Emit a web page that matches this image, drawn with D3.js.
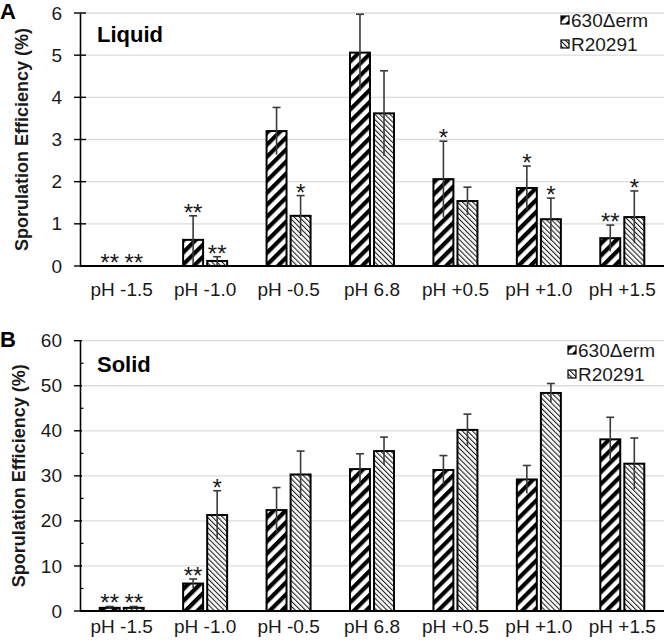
<!DOCTYPE html>
<html>
<head>
<meta charset="utf-8">
<script src="https://cdn.jsdelivr.net/npm/d3@7"></script>
<style>
  html, body { margin: 0; padding: 0; background: #fff; }
  svg { display: block; font-family: "Liberation Sans", Arial, sans-serif; }
</style>
</head>
<body>
<svg id="chart" width="666" height="644"></svg>
<script>
// ---------- data ----------
const categories = ["pH -1.5", "pH -1.0", "pH -0.5", "pH 6.8", "pH +0.5", "pH +1.0", "pH +1.5"];
const seriesNames = ["630\u0394erm", "R20291"];

const liquid630 = [0, 0.62, 3.2, 5.06, 2.06, 1.85, 0.66];
const liquid630Err = [0, 0.57, 0.56, 0.91, 0.9, 0.52, 0.31];
const liquidR = [0, 0.12, 1.19, 3.62, 1.54, 1.11, 1.16];
const liquidRErr = [0, 0.1, 0.48, 1.01, 0.33, 0.5, 0.62];
const liquidStars630 = ["**", "**", "", "", "*", "*", "**"];
const liquidStarsR = ["**", "**", "*", "", "", "*", "*"];
const liquidTicks = [0, 1, 2, 3, 4, 5, 6];

const solid630 = [0.7, 6.1, 22.4, 31.5, 31.3, 29.2, 38.1];
const solid630Err = [0.3, 1.0, 5.0, 3.4, 3.2, 3.1, 4.9];
const solidR = [0.7, 21.3, 30.3, 35.5, 40.2, 48.4, 32.7];
const solidRErr = [0.3, 5.4, 5.2, 3.1, 3.5, 2.1, 5.7];
const solidStars630 = ["**", "**", "", "", "", "", ""];
const solidStarsR = ["**", "*", "", "", "", "", ""];
const solidTicks = [0, 10, 20, 30, 40, 50, 60];
const solidMinorTicks = [5, 15, 25, 35, 45, 55];

const yTitle = "Sporulation Efficiency (%)";

// ---------- drawing ----------
const svg = d3.select("#chart");
const defs = svg.append("defs");

// thick "/" stripes
const p1 = defs.append("pattern").attr("id", "pat630")
  .attr("patternUnits", "userSpaceOnUse").attr("width", 8.5).attr("height", 8.5)
  .attr("patternTransform", "rotate(45)");
p1.append("rect").attr("width", 8.5).attr("height", 8.5).attr("fill", "#fff");
p1.append("rect").attr("width", 4.2).attr("height", 8.5).attr("fill", "#000");

// thin "\" stripes
const p2 = defs.append("pattern").attr("id", "patR")
  .attr("patternUnits", "userSpaceOnUse").attr("width", 3.6).attr("height", 3.6)
  .attr("patternTransform", "rotate(-45)");
p2.append("rect").attr("width", 3.6).attr("height", 3.6).attr("fill", "#fff");
p2.append("rect").attr("width", 1.1).attr("height", 3.6).attr("fill", "#222");

const fills = ["url(#pat630)", "url(#patR)"];

const x = d3.scaleBand().domain(categories).range([80, 664]).paddingInner(0).paddingOuter(0);
const xs = d3.scaleBand().domain(seriesNames)
  .range([x.bandwidth() / 2 - 22, x.bandwidth() / 2 + 22]).paddingInner(0.17);

function panel(cfg) {
  const g = svg.append("g");
  const y = d3.scaleLinear().domain([0, cfg.max]).range([cfg.bottom, cfg.top]);

  // gridlines
  g.append("g").selectAll("line").data(cfg.ticks.filter(t => t > 0)).join("line")
    .attr("x1", 80).attr("x2", 664)
    .attr("y1", d => y(d)).attr("y2", d => y(d))
    .attr("stroke", "#dcdcdc").attr("stroke-width", 1.3);

  // bars
  const data = [];
  categories.forEach((c, i) => {
    cfg.series.forEach((s, k) => {
      data.push({ c, s: seriesNames[k], k, v: s.v[i], e: s.e[i], star: s.star[i] });
    });
  });

  const bars = g.append("g");
  bars.selectAll("rect").data(data.filter(d => d.v > 0)).join("rect")
    .attr("x", d => x(d.c) + xs(d.s))
    .attr("width", xs.bandwidth())
    .attr("y", d => y(d.v))
    .attr("height", d => y(0) - y(d.v))
    .attr("fill", d => fills[d.k])
    .attr("stroke", "#000").attr("stroke-width", 2);

  // error bars
  const eb = g.append("g").attr("stroke", "#3a3a3a").attr("stroke-width", 1.6);
  const withErr = data.filter(d => d.e > 0);
  eb.selectAll("line.v").data(withErr).join("line").attr("class", "v")
    .attr("x1", d => x(d.c) + xs(d.s) + xs.bandwidth() / 2)
    .attr("x2", d => x(d.c) + xs(d.s) + xs.bandwidth() / 2)
    .attr("y1", d => y(Math.max(0, d.v - d.e)))
    .attr("y2", d => y(d.v + d.e));
  eb.selectAll("line.c").data(withErr).join("line").attr("class", "c")
    .attr("x1", d => x(d.c) + xs(d.s) + xs.bandwidth() / 2 - 4)
    .attr("x2", d => x(d.c) + xs(d.s) + xs.bandwidth() / 2 + 4)
    .attr("y1", d => y(d.v + d.e))
    .attr("y2", d => y(d.v + d.e));

  // stars
  g.append("g").selectAll("text").data(data.filter(d => d.star)).join("text")
    .attr("x", d => x(d.c) + xs(d.s) + xs.bandwidth() / 2)
    .attr("y", d => y(d.v + d.e) + cfg.starOff)
    .attr("text-anchor", "middle")
    .attr("font-size", 24).attr("fill", "#1a1a1a")
    .text(d => d.star);

  // y axis
  const yAxis = d3.axisLeft(y).tickValues(cfg.ticks).tickFormat(d3.format("d"))
    .tickSize(0).tickPadding(18);
  const ya = g.append("g").attr("transform", "translate(80,0)").call(yAxis);
  ya.select(".domain").attr("stroke", "#000").attr("stroke-width", 1.6);
  ya.selectAll("text").attr("font-size", 19).attr("fill", "#1a1a1a")
    .attr("font-family", "Liberation Sans, Arial, sans-serif");
  g.append("g").selectAll("line").data(cfg.ticks).join("line")
    .attr("x1", 74).attr("x2", cfg.tickIn)
    .attr("y1", d => y(d)).attr("y2", d => y(d))
    .attr("stroke", "#000").attr("stroke-width", 1.4);
  if (cfg.minor) {
    g.append("g").selectAll("line").data(cfg.minor).join("line")
      .attr("x1", 80).attr("x2", 83.5)
      .attr("y1", d => y(d)).attr("y2", d => y(d))
      .attr("stroke", "#000").attr("stroke-width", 1.2);
  }

  // x axis
  g.append("line").attr("x1", 80).attr("x2", 664)
    .attr("y1", y(0)).attr("y2", y(0))
    .attr("stroke", "#000").attr("stroke-width", 2);
  const xa = d3.axisBottom(x).tickSize(0).tickPadding(0);
  const xg = g.append("g").attr("transform", `translate(0,${y(0)})`).call(xa);
  xg.select(".domain").remove();
  xg.selectAll("text").attr("font-size", 19).attr("fill", "#1a1a1a")
    .attr("dy", null).attr("y", cfg.labelOff)
    .attr("font-family", "Liberation Sans, Arial, sans-serif");

  // y title
  g.append("text")
    .attr("transform", `translate(${cfg.titleX},${(cfg.top + cfg.bottom) / 2}) rotate(-90)`)
    .attr("text-anchor", "middle")
    .attr("font-size", 18).attr("font-weight", "bold").attr("fill", "#1a1a1a")
    .text(yTitle);

  // panel title
  g.append("text").attr("x", 97).attr("y", cfg.nameY)
    .attr("font-size", 22).attr("font-weight", "bold").attr("fill", "#000")
    .text(cfg.name);

  // panel letter
  g.append("text").attr("x", 0).attr("y", cfg.letterY)
    .attr("font-size", 22).attr("font-weight", "bold").attr("fill", "#000")
    .text(cfg.letter);

  // legend
  const lg = g.append("g");
  seriesNames.forEach((s, k) => {
    const ly = cfg.legendY + k * 24;
    lg.append("rect").attr("x", cfg.legendX).attr("y", ly - 4).attr("width", 8).attr("height", 8)
      .attr("fill", fills[k]).attr("stroke", "#000").attr("stroke-width", 1.2);
    lg.append("text").attr("x", cfg.legendX + 10).attr("y", ly + 7)
      .attr("font-size", 19).attr("fill", "#1a1a1a").text(s);
  });
}

panel({
  name: "Liquid", letter: "A", max: 6, top: 13, bottom: 266, ticks: liquidTicks,
  series: [
    { v: liquid630, e: liquid630Err, star: liquidStars630 },
    { v: liquidR, e: liquidRErr, star: liquidStarsR }
  ],
  starOff: 5, labelOff: 30, titleX: 28, nameY: 42, letterY: 19,
  legendX: 561, legendY: 20, tickIn: 86
});

panel({
  name: "Solid", letter: "B", max: 60, top: 340.7, bottom: 611, ticks: solidTicks,
  minor: solidMinorTicks,
  series: [
    { v: solid630, e: solid630Err, star: solidStars630 },
    { v: solidR, e: solidRErr, star: solidStarsR }
  ],
  starOff: 5, labelOff: 22, titleX: 25, nameY: 372, letterY: 347,
  legendX: 568, legendY: 350, tickIn: 82
});
</script>
</body>
</html>
